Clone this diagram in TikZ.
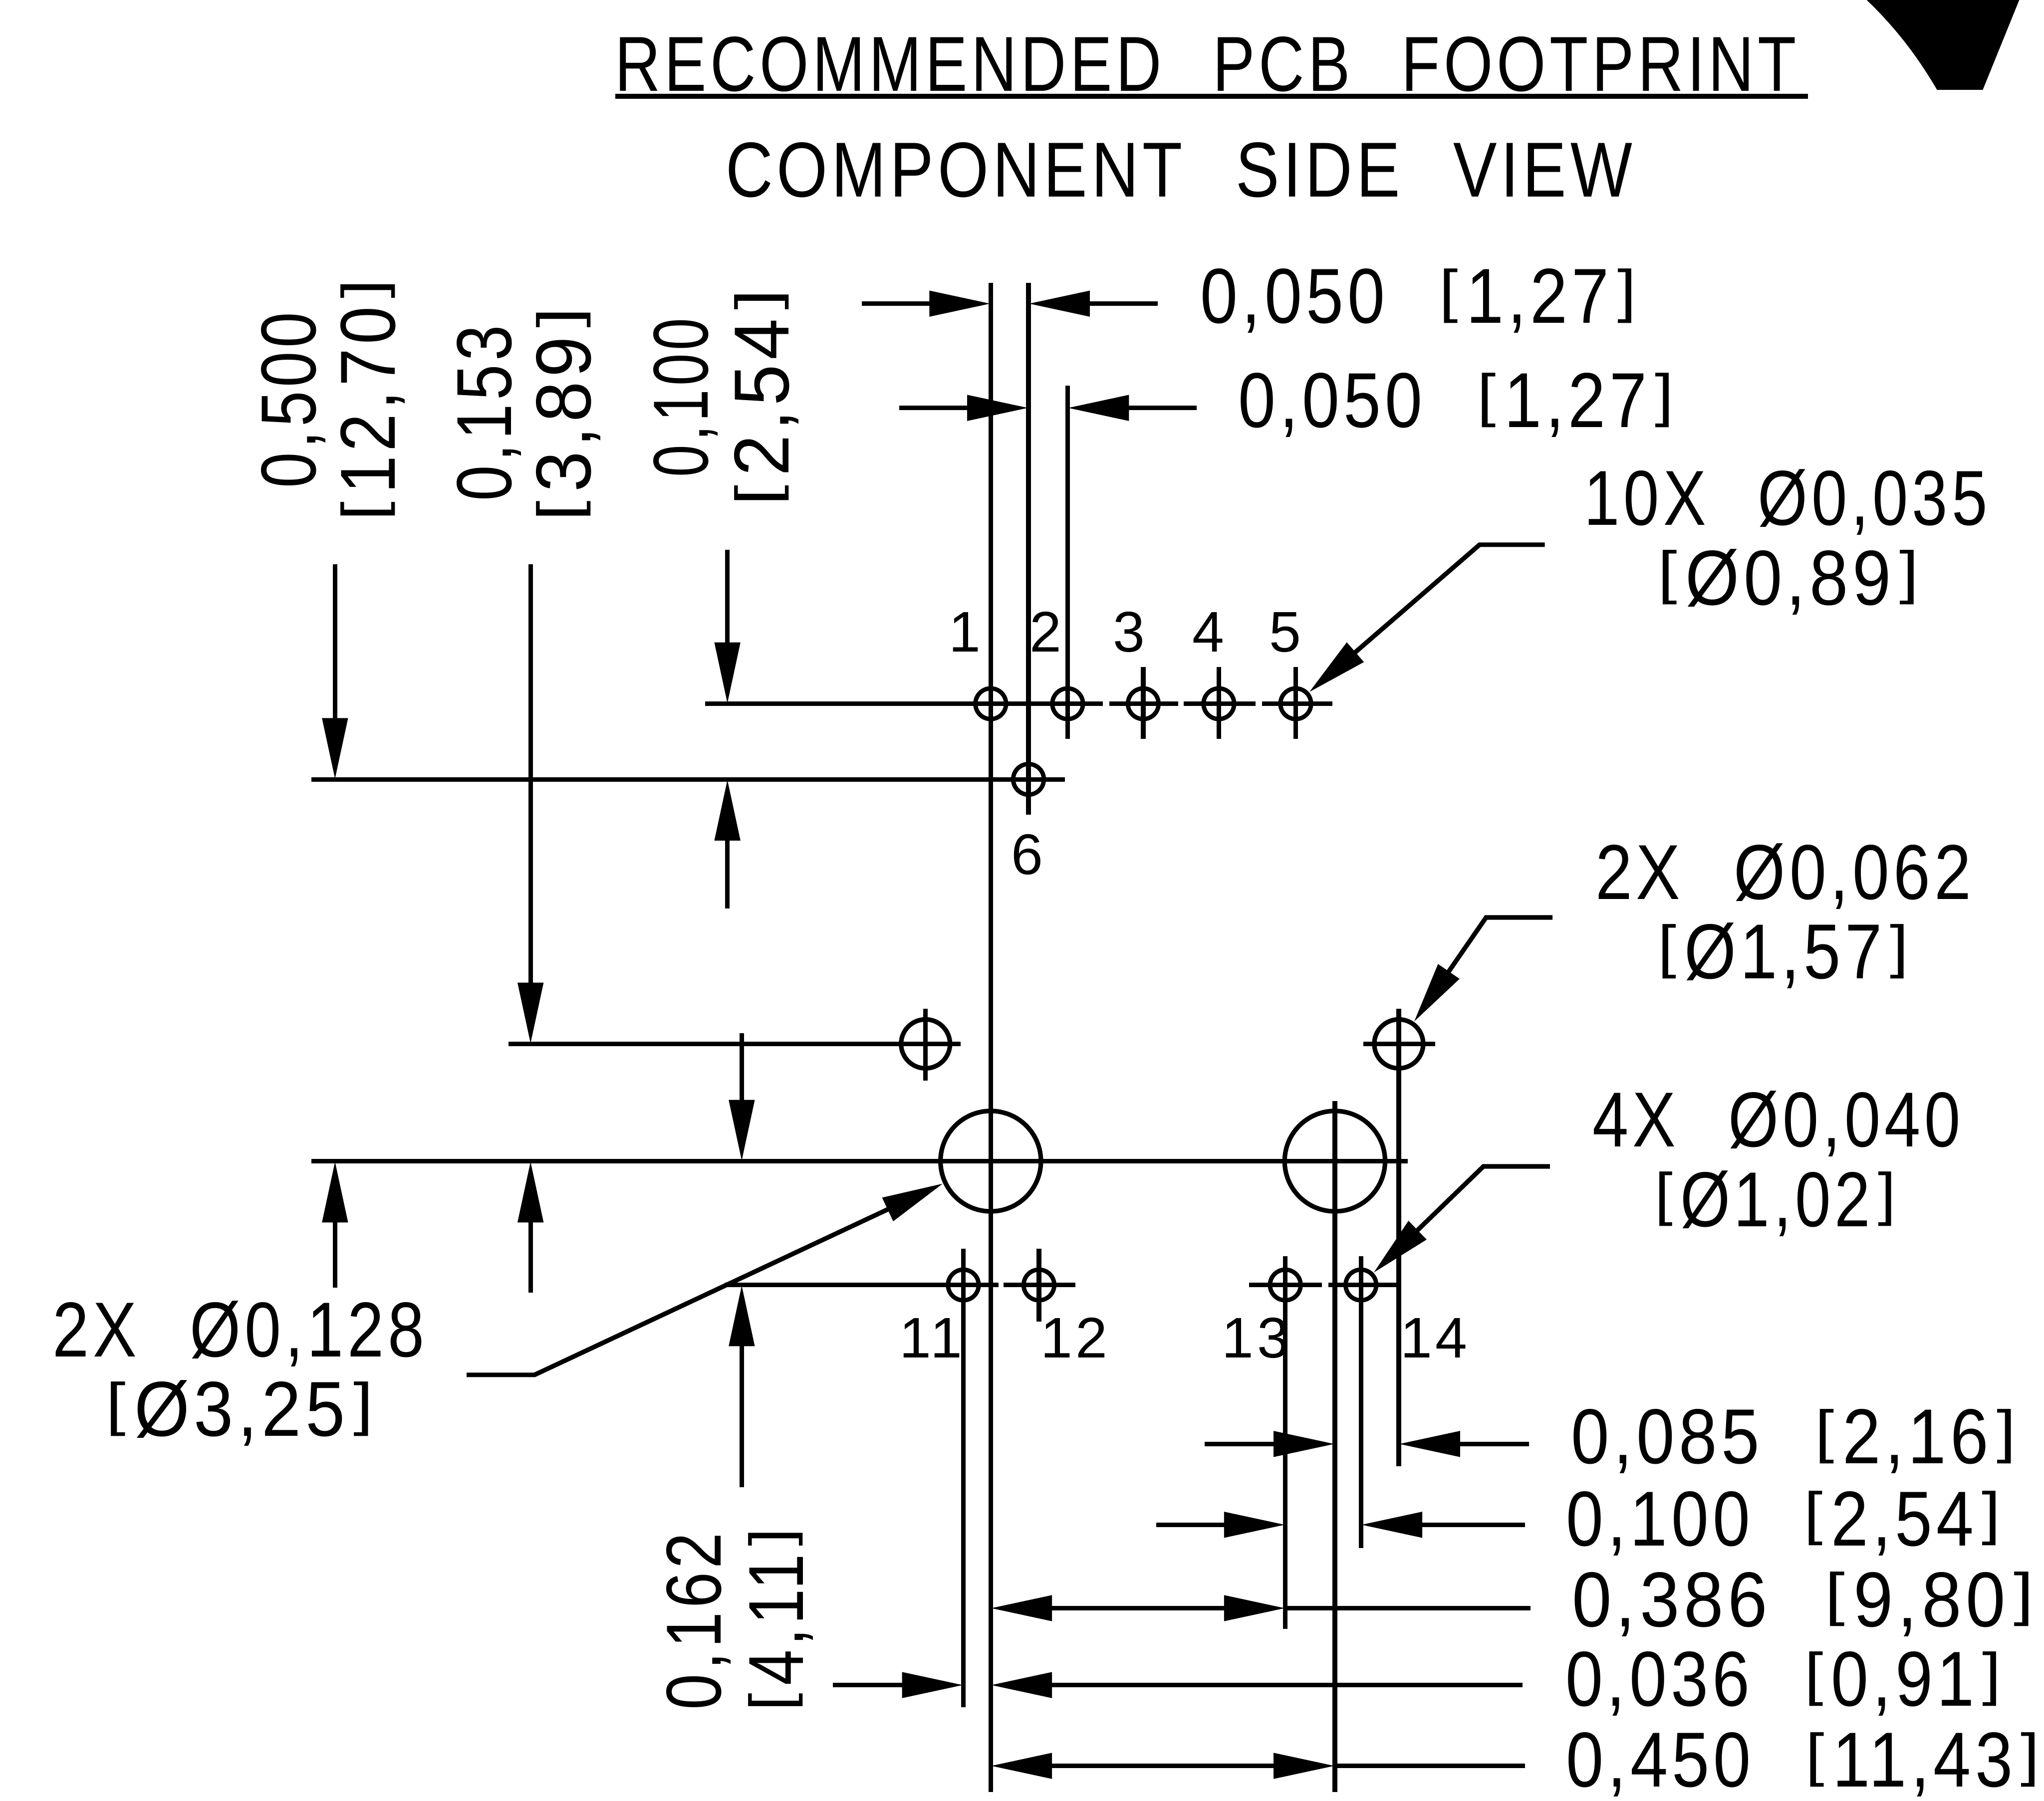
\documentclass[tikz,border=0pt]{standalone}
\usepackage{fontspec}
\setmainfont[WordSpace=2.4,LetterSpace=6]{Liberation Sans}
\usetikzlibrary{arrows.meta}
\newcommand{\fitlabel}[2]{\sbox0{#2}\pgfmathsetmacro{\fitratio}{#1*0.284527/\wd0}\scalebox{\fitratio}[1]{\box0}}
\newcommand{\lbrak}{\raisebox{.155em}{\scalebox{1}[.75]{[}}\kern.12em\relax}
\newcommand{\rbrak}{\kern.12em\raisebox{.155em}{\scalebox{1}[.75]{]}}}
\begin{document}
\begin{tikzpicture}[x=0.01cm,y=-0.01cm]
\tikzstyle{footprint edge} = [draw, color=black, line width=1pt]
\tikzstyle{title edge} = [draw, color=black, line width=1.1pt]
\tikzstyle{dim edge} = [draw, color=black, line width=1pt, -{Triangle[length=0.47cm,width=0.19cm]}]
\tikzstyle{both edge} = [draw, color=black, line width=1pt, {Triangle[length=0.47cm,width=0.19cm]}-{Triangle[length=0.47cm,width=0.19cm]}]
\tikzstyle{small hole} = [draw, circle, line width=0.95pt, inner sep=0pt, minimum size=0.235cm]
\tikzstyle{guide hole} = [draw, circle, line width=1pt, inner sep=0pt, minimum size=0.375cm]
\tikzstyle{big hole} = [draw, circle, line width=1pt, inner sep=0pt, minimum size=0.77cm]
\tikzstyle{dimlabel} = [anchor=base, inner sep=0pt, font=\fontsize{17}{17}\selectfont]
\tikzstyle{pinlabel} = [anchor=base, inner sep=0pt, font=\fontsize{12.5}{12.5}\selectfont]
\useasboundingbox (0,0) rectangle (1568,1381.9);
% hole centres
\coordinate (c_1) at (760,540);
\coordinate (c_2) at (819,540);
\coordinate (c_3) at (877,540);
\coordinate (c_4) at (935,540);
\coordinate (c_5) at (994,540);
\coordinate (c_6) at (789,598);
\coordinate (c_7) at (710,801);
\coordinate (c_8) at (1073,801);
\coordinate (c_9) at (760,891);
\coordinate (c_10) at (1024,891);
\coordinate (c_11) at (739,986);
\coordinate (c_12) at (797,986);
\coordinate (c_13) at (986,986);
\coordinate (c_14) at (1044,986);
% vertical lines
\coordinate (c_15) at (760,217);
\coordinate (c_16) at (760,1375);
\coordinate (c_17) at (789,217);
\coordinate (c_18) at (789,625);
\coordinate (c_19) at (819,296);
\coordinate (c_20) at (819,567);
\coordinate (c_21) at (877,512);
\coordinate (c_22) at (877,567);
\coordinate (c_23) at (935,512);
\coordinate (c_24) at (935,567);
\coordinate (c_25) at (994,512);
\coordinate (c_26) at (994,567);
\coordinate (c_27) at (710,774);
\coordinate (c_28) at (710,829);
\coordinate (c_29) at (1073,774);
\coordinate (c_30) at (1073,1125);
\coordinate (c_31) at (1024,845);
\coordinate (c_32) at (1024,1375);
\coordinate (c_33) at (739,958);
\coordinate (c_34) at (739,1310);
\coordinate (c_35) at (797,958);
\coordinate (c_36) at (797,1014);
\coordinate (c_37) at (986,964);
\coordinate (c_38) at (986,1250);
\coordinate (c_39) at (1044,964);
\coordinate (c_40) at (1044,1188);
% horizontal lines
\coordinate (c_41) at (541,540);
\coordinate (c_42) at (846,540);
\coordinate (c_43) at (851,540);
\coordinate (c_44) at (904,540);
\coordinate (c_45) at (908,540);
\coordinate (c_46) at (963,540);
\coordinate (c_47) at (968,540);
\coordinate (c_48) at (1022,540);
\coordinate (c_49) at (239,598);
\coordinate (c_50) at (817,598);
\coordinate (c_51) at (390,801);
\coordinate (c_52) at (737,801);
\coordinate (c_53) at (1046,801);
\coordinate (c_54) at (1101,801);
\coordinate (c_55) at (239,891);
\coordinate (c_56) at (1080,891);
\coordinate (c_57) at (556,986);
\coordinate (c_58) at (766,986);
\coordinate (c_59) at (770,986);
\coordinate (c_60) at (825,986);
\coordinate (c_61) at (958,986);
\coordinate (c_62) at (1014,986);
\coordinate (c_63) at (1019,986);
\coordinate (c_64) at (1073,986);
\coordinate (c_65) at (472,74);
\coordinate (c_66) at (1387,74);
% vertical dimensions
\coordinate (c_67) at (257,433);
\coordinate (c_68) at (257,598);
\coordinate (c_69) at (407,433);
\coordinate (c_70) at (407,801);
\coordinate (c_71) at (558,422);
\coordinate (c_72) at (558,540);
\coordinate (c_73) at (558,697);
\coordinate (c_74) at (558,598);
\coordinate (c_75) at (569,793);
\coordinate (c_76) at (569,891);
\coordinate (c_77) at (569,1141);
\coordinate (c_78) at (569,986);
\coordinate (c_79) at (257,988);
\coordinate (c_80) at (257,891);
\coordinate (c_81) at (407,992);
\coordinate (c_82) at (407,891);
% horizontal dimensions
\coordinate (c_83) at (661,233);
\coordinate (c_84) at (760,233);
\coordinate (c_85) at (888,233);
\coordinate (c_86) at (789,233);
\coordinate (c_87) at (690,313);
\coordinate (c_88) at (789,313);
\coordinate (c_89) at (918,313);
\coordinate (c_90) at (819,313);
\coordinate (c_91) at (924,1108);
\coordinate (c_92) at (1024,1108);
\coordinate (c_93) at (1173,1108);
\coordinate (c_94) at (1073,1108);
\coordinate (c_95) at (887,1170);
\coordinate (c_96) at (986,1170);
\coordinate (c_97) at (1170,1170);
\coordinate (c_98) at (1044,1170);
\coordinate (c_99) at (760,1234);
\coordinate (c_100) at (986,1234);
\coordinate (c_101) at (1174,1234);
\coordinate (c_102) at (639,1293);
\coordinate (c_103) at (739,1293);
\coordinate (c_104) at (1168,1293);
\coordinate (c_105) at (760,1293);
\coordinate (c_106) at (760,1355);
\coordinate (c_107) at (1024,1355);
\coordinate (c_108) at (1170,1355);
% leaders
\coordinate (c_109) at (1185,418);
\coordinate (c_110) at (1135,418);
\coordinate (c_111) at (1191,704);
\coordinate (c_112) at (1140,704);
\coordinate (c_113) at (1189,895);
\coordinate (c_114) at (1138,895);
\coordinate (c_115) at (358,1055);
\coordinate (c_116) at (410,1055);
% corner mark
\coordinate (c_117) at (1432,0);
\coordinate (c_118) at (1486,69);
\coordinate (c_119) at (1521,69);
\coordinate (c_120) at (1549,0);
\node[small hole] (v_1) at (c_1) {};
\node[small hole] (v_2) at (c_2) {};
\node[small hole] (v_3) at (c_3) {};
\node[small hole] (v_4) at (c_4) {};
\node[small hole] (v_5) at (c_5) {};
\node[small hole] (v_6) at (c_6) {};
\node[guide hole] (v_7) at (c_7) {};
\node[guide hole] (v_8) at (c_8) {};
\node[big hole] (v_9) at (c_9) {};
\node[big hole] (v_10) at (c_10) {};
\node[small hole] (v_11) at (c_11) {};
\node[small hole] (v_12) at (c_12) {};
\node[small hole] (v_13) at (c_13) {};
\node[small hole] (v_14) at (c_14) {};
\path[footprint edge] (c_15) -- (c_16);
\path[footprint edge] (c_17) -- (c_18);
\path[footprint edge] (c_19) -- (c_20);
\path[footprint edge] (c_21) -- (c_22);
\path[footprint edge] (c_23) -- (c_24);
\path[footprint edge] (c_25) -- (c_26);
\path[footprint edge] (c_27) -- (c_28);
\path[footprint edge] (c_29) -- (c_30);
\path[footprint edge] (c_31) -- (c_32);
\path[footprint edge] (c_33) -- (c_34);
\path[footprint edge] (c_35) -- (c_36);
\path[footprint edge] (c_37) -- (c_38);
\path[footprint edge] (c_39) -- (c_40);
\path[footprint edge] (c_41) -- (c_42);
\path[footprint edge] (c_43) -- (c_44);
\path[footprint edge] (c_45) -- (c_46);
\path[footprint edge] (c_47) -- (c_48);
\path[footprint edge] (c_49) -- (c_50);
\path[footprint edge] (c_51) -- (c_52);
\path[footprint edge] (c_53) -- (c_54);
\path[footprint edge] (c_55) -- (c_56);
\path[footprint edge] (c_57) -- (c_58);
\path[footprint edge] (c_59) -- (c_60);
\path[footprint edge] (c_61) -- (c_62);
\path[footprint edge] (c_63) -- (c_64);
\path[title edge] (c_65) -- (c_66);
\path[dim edge] (c_67) -- (c_68);
\path[dim edge] (c_69) -- (c_70);
\path[dim edge] (c_71) -- (c_72);
\path[dim edge] (c_73) -- (c_74);
\path[dim edge] (c_75) -- (c_76);
\path[dim edge] (c_77) -- (c_78);
\path[dim edge] (c_79) -- (c_80);
\path[dim edge] (c_81) -- (c_82);
\path[dim edge] (c_83) -- (c_84);
\path[dim edge] (c_85) -- (c_86);
\path[dim edge] (c_87) -- (c_88);
\path[dim edge] (c_89) -- (c_90);
\path[dim edge] (c_91) -- (c_92);
\path[dim edge] (c_93) -- (c_94);
\path[dim edge] (c_95) -- (c_96);
\path[dim edge] (c_97) -- (c_98);
\path[both edge] (c_99) -- (c_100);
\path[footprint edge] (c_100) -- (c_101);
\path[dim edge] (c_102) -- (c_103);
\path[dim edge] (c_104) -- (c_105);
\path[both edge] (c_106) -- (c_107);
\path[footprint edge] (c_107) -- (c_108);
\path[dim edge] (c_109) -- (c_110) -- (v_5);
\path[dim edge] (c_111) -- (c_112) -- (v_8);
\path[dim edge] (c_113) -- (c_114) -- (v_14);
\path[dim edge] (c_115) -- (c_116) -- (v_9);
\fill[black] (c_117) .. controls (1455,22) and (1472,45) .. (c_118) -- (c_119) -- (c_120) -- cycle;
% pin numbers
\node[pinlabel] (p_1) at (740,500) {1};
\node[pinlabel] (p_2) at (802,500) {2};
\node[pinlabel] (p_3) at (866,500) {3};
\node[pinlabel] (p_4) at (927,500) {4};
\node[pinlabel] (p_5) at (986,500) {5};
\node[pinlabel] (p_6) at (788,671) {6};
\node[pinlabel] (p_11) at (714,1042) {11};
\node[pinlabel] (p_12) at (824,1042) {12};
\node[pinlabel] (p_13) at (963,1042) {13};
\node[pinlabel] (p_14) at (1100,1042) {14};
% texts
\node[dimlabel] (t_1) at (925,70) {\fitlabel{906}{RECOMMENDED PCB FOOTPRINT}};
\node[dimlabel] (t_2) at (904.5,151) {\fitlabel{695}{COMPONENT SIDE VIEW}};
\node[dimlabel] (t_3) at (1088,248) {\fitlabel{334}{0,050 \lbrak 1,27\rbrak}};
\node[dimlabel] (t_4) at (1117,328) {\fitlabel{334}{0,050 \lbrak 1,27\rbrak}};
\node[dimlabel] (t_5) at (1370,403) {\fitlabel{309}{10X Ø0,035}};
\node[dimlabel] (t_6) at (1372,464) {\fitlabel{200}{\lbrak Ø0,89\rbrak}};
\node[dimlabel] (t_7) at (1368,690) {\fitlabel{288}{2X Ø0,062}};
\node[dimlabel] (t_8) at (1368,751) {\fitlabel{192}{\lbrak Ø1,57\rbrak}};
\node[dimlabel] (t_9) at (1363,880) {\fitlabel{282}{4X Ø0,040}};
\node[dimlabel] (t_10) at (1362,941) {\fitlabel{185}{\lbrak Ø1,02\rbrak}};
\node[dimlabel] (t_11) at (183,1041) {\fitlabel{285}{2X Ø0,128}};
\node[dimlabel] (t_12) at (184,1102) {\fitlabel{205}{\lbrak Ø3,25\rbrak}};
\node[dimlabel] (t_13) at (1376,1123) {\fitlabel{341}{0,085 \lbrak 2,16\rbrak}};
\node[dimlabel] (t_14) at (1368,1186) {\fitlabel{333}{0,100 \lbrak 2,54\rbrak}};
\node[dimlabel] (t_15) at (1383,1248) {\fitlabel{354}{0,386 \lbrak 9,80\rbrak}};
\node[dimlabel] (t_16) at (1368,1309) {\fitlabel{334}{0,036 \lbrak 0,91\rbrak}};
\node[dimlabel] (t_17) at (1383,1371) {\fitlabel{363}{0,450 \lbrak 11,43\rbrak}};
\node[dimlabel, rotate=90] (t_18) at (242,307) {\fitlabel{135}{0,500}};
\node[dimlabel, rotate=90] (t_19) at (303,307) {\fitlabel{185}{\lbrak 12,70\rbrak}};
\node[dimlabel, rotate=90] (t_20) at (392,317) {\fitlabel{135}{0,153}};
\node[dimlabel, rotate=90] (t_21) at (453,318) {\fitlabel{164}{\lbrak 3,89\rbrak}};
\node[dimlabel, rotate=90] (t_22) at (543,305) {\fitlabel{122}{0,100}};
\node[dimlabel, rotate=90] (t_23) at (605,305) {\fitlabel{166}{\lbrak 2,54\rbrak}};
\node[dimlabel, rotate=90] (t_24) at (553,1244) {\fitlabel{136}{0,162}};
\node[dimlabel, rotate=90] (t_25) at (616,1243) {\fitlabel{140}{\lbrak 4,11\rbrak}};
\end{tikzpicture}
\end{document}
